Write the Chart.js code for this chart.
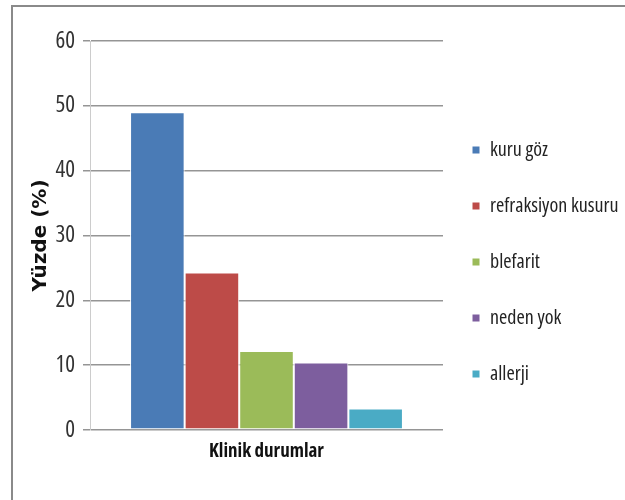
<!DOCTYPE html>
<html>
<head>
<meta charset="utf-8">
<script src="https://cdn.jsdelivr.net/npm/chart.js@4"></script>
<style>
  body { margin: 0; background: #fff; overflow: hidden; }
  #frame { position: absolute; left: 11px; top: 5px; width: 700px; height: 600px;
           border-left: 2px solid #8a8a8a; border-top: 2px solid #8a8a8a; }
  #wrap { position: absolute; left: 0; top: 0; width: 625px; height: 500px; }
</style>
</head>
<body>
<div id="frame"></div>
<div id="wrap"><canvas id="chart"></canvas></div>
<script>
const categories = ['Klinik durumlar'];
const seriesNames = ['kuru göz', 'refraksiyon kusuru', 'blefarit', 'neden yok', 'allerji'];
const seriesValues = [[49.0], [24.3], [12.2], [10.4], [3.3]];
const seriesColors = ['#4A7BB6', '#BD4B48', '#9BBB59', '#7D5E9E', '#4AABC5'];
const yTicks = [0, 10, 20, 30, 40, 50, 60];

// Open Sans is a variable font here, so the stretch keyword gives a narrow face
const openSans = "'Open Sans', sans-serif";

// nudge the legend a bit left, the original sits closer to the plot
const legendShift = {
    id: 'legendShift',
    afterLayout(chart) {
        chart.legend.left -= 7;
        chart.legend.right -= 7;
    }
};

const datasets = seriesNames.map((name, i) => ({
    label: name,
    data: seriesValues[i],
    backgroundColor: seriesColors[i],
    borderColor: '#ffffff',
    borderWidth: 1,
    borderSkipped: false,
    categoryPercentage: 0.773,
    barPercentage: 1.0
}));

const ctx = document.getElementById('chart').getContext('2d');
new Chart(ctx, {
    type: 'bar',
    data: { labels: categories, datasets: datasets },
    plugins: [legendShift],
    options: {
        responsive: true,
        maintainAspectRatio: false,
        animation: false,
        layout: { padding: { left: 12, top: 41, right: 0, bottom: 17 } },
        plugins: {
            tooltip: { enabled: false },
            legend: {
                position: 'right',
                align: 'center',
                maxWidth: 182,
                labels: {
                    boxWidth: 8,
                    boxHeight: 8,
                    padding: 36,
                    color: '#222',
                    font: { family: openSans, size: 20, weight: 'normal condensed' }
                }
            }
        },
        scales: {
            x: {
                grid: { display: false },
                border: { display: false },
                ticks: {
                    color: '#111',
                    padding: 2,
                    font: { family: openSans, size: 19, weight: 'bold condensed' }
                },
                afterFit: (scale) => { scale.height = 53; }
            },
            y: {
                min: 0,
                max: 60,
                afterBuildTicks: (scale) => {
                    scale.ticks = yTicks.map(v => ({ value: v }));
                },
                grid: {
                    color: '#959595',
                    lineWidth: 1.5,
                    tickLength: 7,
                    tickColor: '#959595'
                },
                border: { display: true, color: '#cccccc', width: 1 },
                ticks: {
                    color: '#333',
                    padding: 8,
                    font: { family: openSans, size: 23, weight: 'normal condensed' }
                },
                title: {
                    display: true,
                    text: 'Yüzde (%)',
                    color: '#111',
                    padding: { top: 17, bottom: 0 },
                    font: { family: "'DejaVu Sans', sans-serif", size: 20, weight: 'bold' }
                },
                afterFit: (scale) => { scale.width = 78; }
            }
        }
    }
});
</script>
</body>
</html>
